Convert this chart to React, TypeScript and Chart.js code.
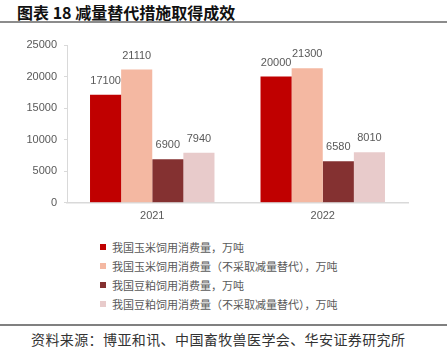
import React, { useEffect, useRef } from "react";
import { Chart, registerables } from "chart.js";

Chart.register(...registerables);

const categories = ["2021", "2022"];
const seriesNames = [
  "我国玉米饲用消费量，万吨",
  "我国玉米饲用消费量（不采取减量替代），万吨",
  "我国豆粕饲用消费量，万吨",
  "我国豆粕饲用消费量（不采取减量替代），万吨",
];
const cornActual = [17100, 20000];
const cornNoReduction = [21110, 21300];
const soyActual = [6900, 6580];
const soyNoReduction = [7940, 8010];
const seriesColors = ["#C00000", "#F4B8A2", "#843131", "#E8CBCB"];
const yTicks = [0, 5000, 10000, 15000, 20000, 25000];

const valueLabelPlugin = {
  id: "valueLabels",
  afterDatasetsDraw(chart: any) {
    const ctx = chart.ctx;
    ctx.save();
    ctx.font = "11px Arial, 'Liberation Sans', sans-serif";
    ctx.fillStyle = "#595959";
    ctx.textAlign = "center";
    ctx.textBaseline = "middle";
    chart.data.datasets.forEach((ds: any, i: number) => {
      const meta = chart.getDatasetMeta(i);
      meta.data.forEach((bar: any, j: number) => {
        ctx.fillText(String(ds.data[j]), bar.x, bar.y - 14);
      });
    });
    ctx.restore();
  },
};

function BarChart() {
  const ref = useRef<HTMLCanvasElement>(null);
  useEffect(() => {
    if (!ref.current) return;
    const data = [cornActual, cornNoReduction, soyActual, soyNoReduction];
    const chart = new Chart(ref.current, {
      type: "bar",
      data: {
        labels: categories,
        datasets: data.map((d, i) => ({
          label: seriesNames[i],
          data: d,
          backgroundColor: seriesColors[i],
          borderWidth: 0,
          categoryPercentage: 0.73,
          barPercentage: 1,
        })),
      },
      options: {
        animation: false,
        responsive: false,
        maintainAspectRatio: false,
        layout: { padding: { top: 15, right: 39, left: 0, bottom: 0 } },
        plugins: {
          legend: { display: false },
          tooltip: { enabled: false },
        },
        scales: {
          x: {
            grid: { display: false, drawTicks: false, tickLength: 0 },
            border: { color: "#D9D9D9", width: 1.5 },
            ticks: {
              color: "#595959",
              font: { size: 11, family: "Arial, 'Liberation Sans', sans-serif" },
              padding: 7,
            },
          },
          y: {
            min: 0,
            max: 25000,
            afterFit: (scale: any) => {
              scale.width = 67;
            },
            afterBuildTicks: (scale: any) => {
              scale.ticks = yTicks.map((v) => ({ value: v }));
            },
            grid: {
              drawOnChartArea: false,
              drawTicks: true,
              tickLength: 3,
              color: "#D9D9D9",
            },
            border: { color: "#D9D9D9", width: 1 },
            ticks: {
              color: "#595959",
              font: { size: 11, family: "Arial, 'Liberation Sans', sans-serif" },
              padding: 7,
              callback: (v: any) => String(v),
            },
          },
        },
      },
      plugins: [valueLabelPlugin],
    });
    return () => chart.destroy();
  }, []);
  return (
    <canvas
      ref={ref}
      width={447}
      height={200}
      style={{ position: "absolute", left: 0, top: 30, width: 447, height: 200 }}
    />
  );
}

export default function App() {
  const cjk = "'Noto Sans CJK SC', 'Noto Sans', sans-serif";
  return (
    <div
      style={{
        position: "fixed",
        left: 0,
        top: 0,
        width: 447,
        height: 362,
        background: "#fff",
        overflow: "hidden",
      }}
    >
      <div
        style={{
          position: "absolute",
          left: 17,
          top: 2,
          fontFamily: cjk,
          fontWeight: 700,
          fontSize: 16,
          lineHeight: "20px",
          color: "#111",
          whiteSpace: "nowrap",
        }}
      >
        图表 18 减量替代措施取得成效
      </div>
      <div
        style={{
          position: "absolute",
          left: 0,
          top: 21,
          width: 447,
          height: 2,
          background: "#8C8C8C",
        }}
      />
      <BarChart />
      <div style={{ position: "absolute", left: 100, top: 238 }}>
        {seriesNames.map((name, i) => (
          <div
            key={name}
            style={{
              display: "flex",
              alignItems: "center",
              height: 18.8,
              whiteSpace: "nowrap",
            }}
          >
            <span
              style={{
                display: "inline-block",
                width: 6,
                height: 6,
                background: seriesColors[i],
                marginRight: 6,
              }}
            />
            <span
              style={{
                fontFamily: cjk,
                fontSize: 11,
                color: "#595959",
                lineHeight: "14px",
              }}
            >
              {name}
            </span>
          </div>
        ))}
      </div>
      <div
        style={{
          position: "absolute",
          left: 0,
          top: 324,
          width: 447,
          height: 1.5,
          background: "#808080",
        }}
      />
      <div
        style={{
          position: "absolute",
          left: 31,
          top: 330,
          fontFamily: cjk,
          fontSize: 14,
          lineHeight: "18px",
          color: "#333",
          letterSpacing: 0.4,
          whiteSpace: "nowrap",
        }}
      >
        资料来源：博亚和讯、中国畜牧兽医学会、华安证券研究所
      </div>
    </div>
  );
}
